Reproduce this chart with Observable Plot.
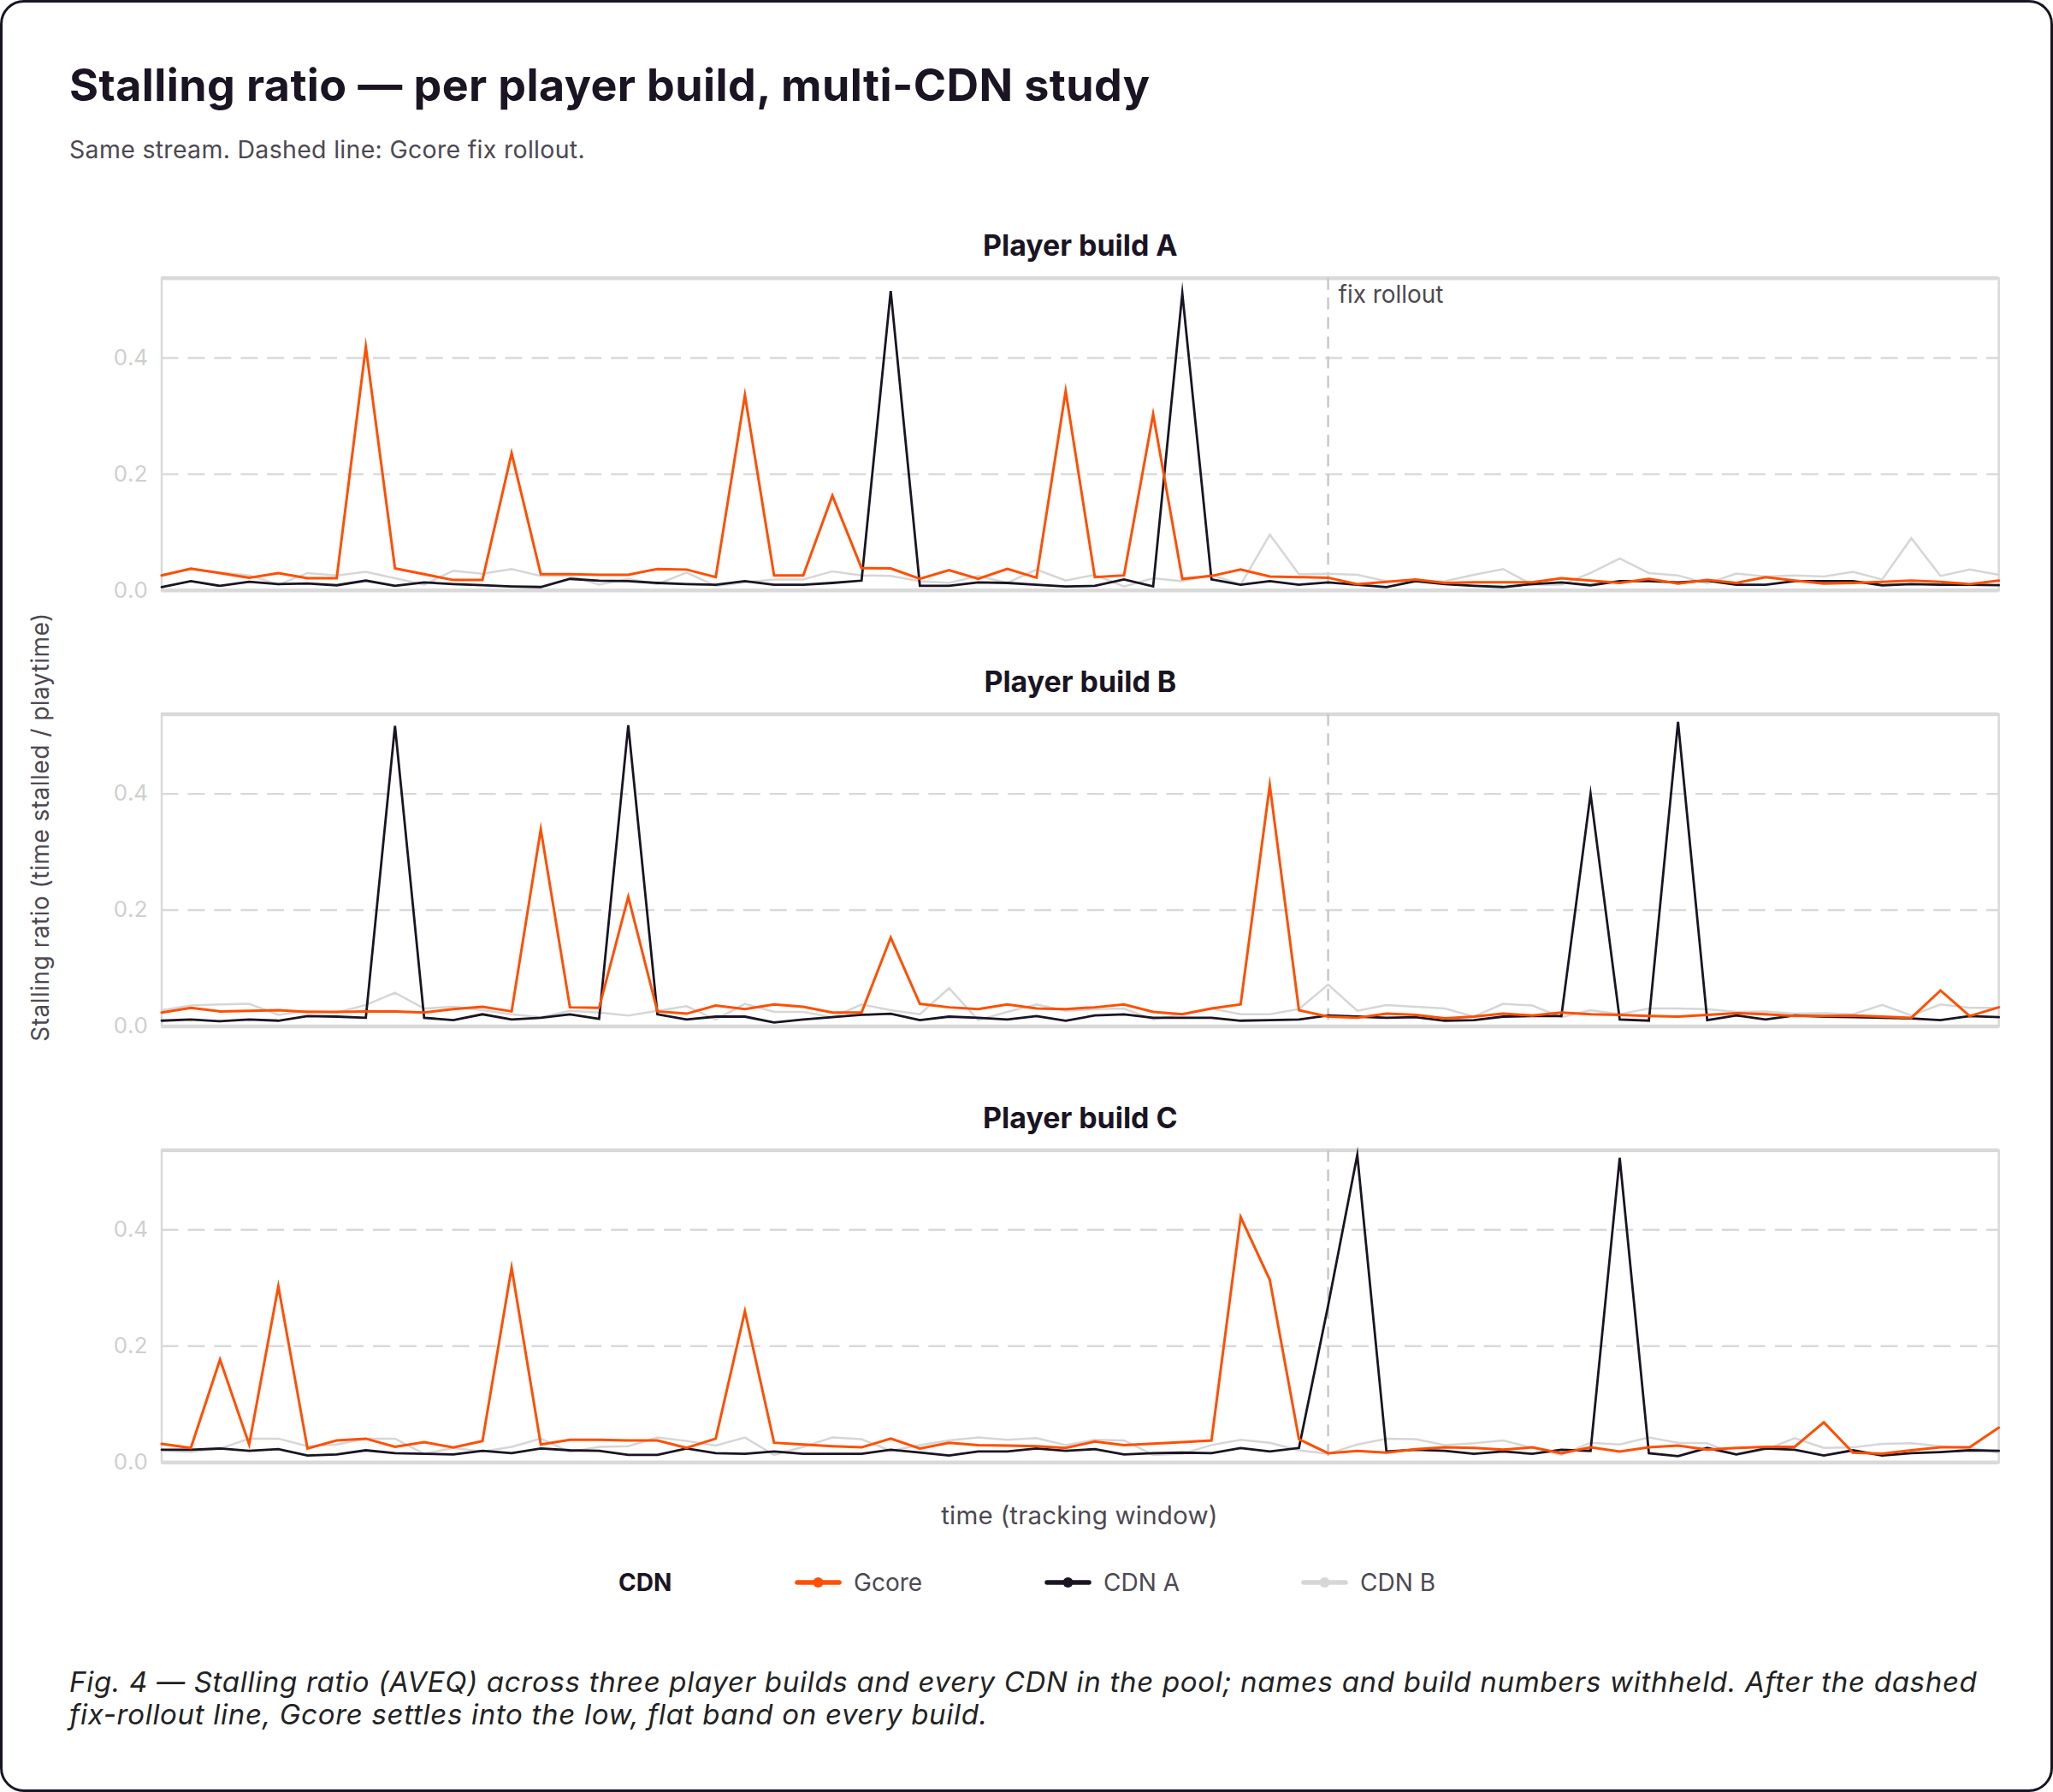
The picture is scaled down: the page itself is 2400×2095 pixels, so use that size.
<!DOCTYPE html>
<html>
<head>
<meta charset="utf-8">
<script src="https://cdn.jsdelivr.net/npm/d3@7"></script>
<script src="https://cdn.jsdelivr.net/npm/@observablehq/plot@0.6"></script>
<style>
  html, body { margin: 0; padding: 0; background: #fff; }
  #card { position: relative; width: 2400px; height: 2095px; box-sizing: border-box;
          border: 3px solid #1a1423; border-radius: 28px; background: #fff; overflow: hidden;
          font-family: Inter, "Noto Sans", sans-serif; }
  #card > * { position: absolute; }
  #title { left: 78px; top: 68px; margin: 0; font-size: 52px; line-height: 58px; font-weight: 700;
           color: #1a1423; letter-spacing: 0.4px; white-space: nowrap; }
  #subtitle { left: 78px; top: 155px; margin: 0; font-size: 28.5px; line-height: 34px; color: #4d4852; letter-spacing: 0.3px; white-space: nowrap; }
  #chart { left: -3px; top: 227px; }
  #ylabel { left: 44px; top: 964px; transform: translate(-50%, -50%) rotate(-90deg); font-size: 28px; letter-spacing: 0.5px;
            color: #4d4852; white-space: nowrap; }
  #xlabel { left: 1259px; top: 1768px; transform: translate(-50%, -50%); font-size: 29.5px; letter-spacing: 0.2px; color: #4d4852; white-space: nowrap; }
  #legend { left: 0; top: 1827px; width: 2400px; height: 40px; }
  .lg { position: absolute; top: 0; height: 40px; display: flex; align-items: center; font-size: 28px; color: #4d4852; white-space: nowrap; }
  .lg svg { margin-right: 14px; }
  #caption { left: 78px; top: 1944px; margin: 0; font-size: 33px; line-height: 38px; font-style: italic; color: #222;
             white-space: nowrap; letter-spacing: 0.7px; }
</style>
</head>
<body>
<div id="card">
  <h1 id="title">Stalling ratio — per player build, multi-CDN study</h1>
  <p id="subtitle">Same stream. Dashed line: Gcore fix rollout.</p>
  <div id="chart"></div>
  <div id="ylabel">Stalling ratio (time stalled / playtime)</div>
  <div id="xlabel">time (tracking window)</div>
  <div id="legend"></div>
  <p id="caption">Fig. 4 — Stalling ratio (AVEQ) across three player builds and every CDN in the pool; names and build numbers withheld. After the dashed<br>fix-rollout line, Gcore settles into the low, flat band on every build.</p>
</div>
<script>
// ---- data ----
const builds = ["A", "B", "C"];
const cdns = ["Gcore", "CDN A", "CDN B"];
const cdnColors = ["#ff4f00", "#1a1423", "#d6d6d6"];
const rolloutStep = 40;
const yTicks = [0, 0.2, 0.4];
const yMax = 0.537;

const gcoreA = [0.026,0.0375,0.030,0.022,0.030,0.021,0.021,0.419,0.038,0.028,0.018,0.018,0.236,0.028,0.028,0.027,0.027,0.037,0.036,0.023,0.336,0.026,0.026,0.163,0.0385,0.038,0.020,0.035,0.020,0.037,0.022,0.343,
                0.023,0.026,0.303,0.020,0.025,0.036,0.024,0.023,0.022,0.011,0.015,0.019,0.013,0.014,0.014,0.014,0.021,0.017,0.013,0.020,0.012,0.018,0.013,0.023,0.017,0.012,0.013,0.015,0.017,0.015,0.011,0.017];
const cdnAA  = [0.006,0.016,0.008,0.015,0.011,0.012,0.009,0.017,0.008,0.014,0.011,0.009,0.007,0.006,0.020,0.017,0.016,0.013,0.011,0.010,0.016,0.010,0.010,0.013,0.017,0.515,0.008,0.008,0.014,0.013,0.010,0.007,
                0.008,0.019,0.007,0.511,0.019,0.010,0.016,0.010,0.014,0.010,0.006,0.016,0.011,0.008,0.006,0.011,0.014,0.009,0.016,0.016,0.014,0.017,0.010,0.010,0.016,0.016,0.016,0.009,0.011,0.010,0.010,0.009];
const cdnBA  = [0.027,0.036,0.031,0.026,0.010,0.030,0.026,0.032,0.021,0.010,0.034,0.029,0.037,0.025,0.025,0.010,0.020,0.011,0.031,0.008,0.014,0.019,0.019,0.033,0.026,0.025,0.016,0.013,0.025,0.013,0.036,0.017,
                0.027,0.007,0.021,0.016,0.027,0.010,0.096,0.028,0.029,0.027,0.016,0.015,0.016,0.027,0.037,0.010,0.010,0.030,0.055,0.030,0.026,0.012,0.029,0.024,0.026,0.024,0.032,0.019,0.090,0.025,0.036,0.027];

const gcoreB = [0.024,0.032,0.026,0.027,0.028,0.025,0.025,0.026,0.026,0.024,0.030,0.034,0.026,0.339,0.033,0.032,0.223,0.026,0.022,0.036,0.030,0.038,0.034,0.024,0.024,0.153,0.039,0.033,0.030,0.038,0.031,0.030,
                0.033,0.038,0.025,0.021,0.031,0.038,0.415,0.028,0.017,0.015,0.022,0.020,0.014,0.017,0.022,0.019,0.024,0.021,0.020,0.018,0.017,0.020,0.023,0.021,0.018,0.018,0.019,0.017,0.015,0.062,0.018,0.033];
const cdnAB  = [0.010,0.012,0.009,0.012,0.010,0.018,0.017,0.015,0.517,0.015,0.011,0.021,0.012,0.015,0.021,0.013,0.518,0.021,0.012,0.017,0.017,0.007,0.012,0.016,0.020,0.022,0.011,0.017,0.015,0.012,0.018,0.010,
                0.019,0.021,0.015,0.015,0.015,0.010,0.011,0.012,0.019,0.017,0.015,0.016,0.010,0.011,0.017,0.018,0.018,0.400,0.012,0.010,0.524,0.011,0.019,0.012,0.019,0.017,0.016,0.015,0.014,0.011,0.018,0.016];
const cdnBB  = [0.028,0.036,0.038,0.039,0.020,0.027,0.024,0.037,0.058,0.031,0.034,0.028,0.021,0.016,0.027,0.024,0.019,0.027,0.035,0.012,0.039,0.025,0.025,0.016,0.038,0.028,0.021,0.066,0.011,0.025,0.038,0.027,
                0.030,0.031,0.012,0.022,0.031,0.021,0.021,0.030,0.072,0.027,0.037,0.034,0.031,0.017,0.039,0.036,0.016,0.028,0.021,0.031,0.031,0.030,0.025,0.026,0.022,0.023,0.021,0.037,0.019,0.038,0.032,0.032];

const gcoreC = [0.032,0.025,0.177,0.031,0.303,0.024,0.038,0.041,0.027,0.035,0.026,0.037,0.335,0.031,0.039,0.039,0.038,0.038,0.025,0.041,0.260,0.034,0.031,0.028,0.026,0.041,0.024,0.034,0.030,0.029,0.028,0.025,
                0.036,0.030,0.0325,0.035,0.038,0.422,0.314,0.040,0.016,0.020,0.017,0.023,0.026,0.025,0.022,0.026,0.016,0.026,0.019,0.026,0.029,0.022,0.025,0.027,0.027,0.069,0.017,0.015,0.021,0.026,0.026,0.060];
const cdnAC  = [0.022,0.022,0.024,0.020,0.023,0.012,0.014,0.021,0.016,0.015,0.014,0.020,0.016,0.024,0.021,0.020,0.013,0.013,0.024,0.016,0.015,0.019,0.015,0.015,0.015,0.022,0.017,0.012,0.019,0.019,0.024,0.020,
                0.023,0.014,0.016,0.017,0.016,0.025,0.019,0.025,0.270,0.529,0.019,0.022,0.020,0.015,0.019,0.015,0.022,0.020,0.524,0.016,0.011,0.025,0.014,0.024,0.022,0.012,0.021,0.012,0.016,0.018,0.021,0.020];
const cdnBC  = [0.021,0.018,0.024,0.041,0.041,0.028,0.031,0.041,0.041,0.015,0.025,0.019,0.027,0.041,0.018,0.027,0.028,0.043,0.037,0.029,0.043,0.013,0.027,0.043,0.040,0.020,0.030,0.038,0.043,0.039,0.042,0.030,
                0.039,0.038,0.013,0.015,0.030,0.039,0.034,0.021,0.015,0.031,0.041,0.040,0.030,0.033,0.038,0.025,0.013,0.034,0.031,0.043,0.034,0.033,0.013,0.022,0.042,0.025,0.026,0.032,0.033,0.028,0.025,0.017];

// ---- tidy table ----
const seriesByBuild = {
  A: [gcoreA, cdnAA, cdnBA],
  B: [gcoreB, cdnAB, cdnBB],
  C: [gcoreC, cdnAC, cdnBC]
};
const rows = [];
for (const b of builds) {
  seriesByBuild[b].forEach((vals, k) => {
    vals.forEach((v, t) => rows.push({build: b, cdn: cdns[k], t, v}));
  });
}

const lineWidths = {"Gcore": 3, "CDN A": 2.8, "CDN B": 2.5};
const drawOrder = ["CDN B", "CDN A", "Gcore"];

const chart = Plot.plot({
  width: 2403,
  height: 1587,
  marginTop: 94,
  marginBottom: 103,
  marginLeft: 189,
  marginRight: 61,
  style: {fontFamily: "Inter, 'Noto Sans', sans-serif", background: "transparent"},
  x: {axis: null, domain: [0, 63]},
  y: {domain: [0, yMax], axis: null},
  fy: {domain: builds, axis: null, paddingInner: 0.284, paddingOuter: 0},
  color: {domain: cdns, range: cdnColors},
  marks: [
    Plot.gridY(yTicks.slice(1), {stroke: "#d9d9d9", strokeOpacity: 1, strokeWidth: 2.5, strokeDasharray: "20,11"}),
    Plot.frame({stroke: "#d9d9d9", strokeWidth: 2.5}),
    Plot.ruleY([0, yMax], {stroke: "#d9d9d9", strokeWidth: 4.5}),
    Plot.ruleX([rolloutStep], {stroke: "#c9c9c9", strokeWidth: 2.5, strokeDasharray: "14,9"}),
    Plot.axisY(yTicks, {tickFormat: d3.format(".1f"), tickSize: 0, tickPadding: 16, fontSize: 26, fill: "#cfcfcf", label: null}),
    ...drawOrder.map(c => Plot.lineY(rows.filter(d => d.cdn === c), {
      x: "t", y: "v", fy: "build", stroke: "cdn", strokeWidth: lineWidths[c], strokeLinejoin: "miter", strokeMiterlimit: 10
    })),
    Plot.text(builds, {fy: d => d, text: d => `Player build ${d}`, frameAnchor: "top", lineAnchor: "middle", dy: -37,
      fontWeight: 700, fontSize: 34, fill: "#1a1423", style: "letter-spacing:0.8px"}),
    Plot.text([{build: "A", t: rolloutStep, label: "fix rollout"}], {x: "t", fy: "build", text: "label",
      frameAnchor: "top", lineAnchor: "middle", dx: 12, dy: 20, textAnchor: "start", fontSize: 28, fill: "#4d4852"})
  ]
});
document.getElementById("chart").appendChild(chart);

// ---- legend ----
const legend = document.getElementById("legend");
const title = document.createElement("div");
title.className = "lg";
title.style.left = "720px";
title.style.fontWeight = "700";
title.style.color = "#1a1423";
title.textContent = "CDN";
legend.appendChild(title);
const legendX = [926, 1218, 1518];
cdns.forEach((c, i) => {
  const item = document.createElement("div");
  item.className = "lg";
  item.style.left = legendX[i] + "px";
  item.innerHTML = `<svg width="55" height="20"><line x1="3" y1="10" x2="52" y2="10" stroke="${cdnColors[i]}" stroke-width="5.5" stroke-linecap="round"/><circle cx="27.5" cy="10" r="6" fill="${cdnColors[i]}"/></svg>`;
  const span = document.createElement("span");
  span.textContent = c;
  item.appendChild(span);
  legend.appendChild(item);
});
</script>
</body>
</html>
